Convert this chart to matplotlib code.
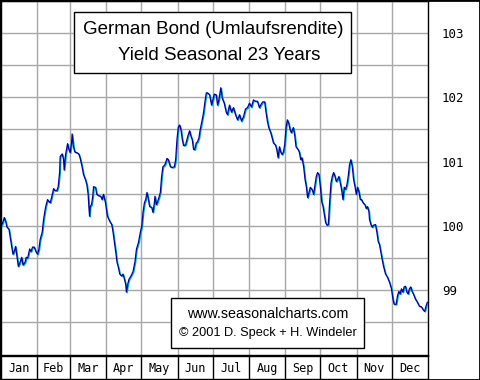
import numpy as np
import matplotlib
matplotlib.use('Agg')
import matplotlib.pyplot as plt
import matplotlib.transforms as mtransforms
from matplotlib.patches import Rectangle

# seasonal pattern, day of year vs index value
days = [0, 1.5, 2.8, 4.0, 5.1, 6.8, 7.9, 9.1, 10.2, 11.3, 12.5, 13.4, 14.8, 16.0, 17.7, 18.8,
        20.5, 21.6, 22.8, 24.5, 25.6, 27.0, 28.4, 30.1, 31.3, 32.4, 33.5, 35.2, 36.4, 38.1,
        39.8, 40.9, 42.1, 43.2, 45.0, 46.1, 47.8, 48.9, 50.1, 50.6, 52.3, 53.5, 54.0, 55.2,
        56.9, 58.0, 59.1, 60.3, 60.8, 62.0, 63.1, 64.8, 66.5, 67.6, 69.3, 70.5, 72.2, 73.4,
        74.5, 75.1, 75.7, 76.2, 77.4, 78.5, 79.1, 80.8, 81.9, 83.6, 85.3, 86.4, 87.6, 89.3,
        91.0, 93.0, 94.7, 95.8, 97.0, 98.1, 99.2, 100.4, 101.5, 103.2, 104.3, 105.5, 106.6,
        107.2, 108.3, 109.4, 111.1, 112.9, 114.6, 115.8, 117.5, 119.2, 120.3, 121.4, 122.6,
        123.7, 124.8, 126.0, 127.1, 128.8, 129.9, 131.1, 131.6, 132.8, 133.9, 135.0, 136.2,
        137.3, 138.4, 140.1, 141.9, 143.0, 144.8, 146.5, 148.2, 149.3, 150.4, 151.6, 152.7,
        153.8, 155.0, 156.1, 157.8, 158.9, 160.1, 161.2, 162.3, 163.5, 164.6, 165.7, 166.9,
        168.0, 169.2, 170.3, 172.0, 173.2, 174.3, 175.5, 176.6, 178.3, 180.0, 181.1, 182.3,
        184.0, 185.1, 186.2, 187.9, 189.1, 190.8, 192.5, 193.6, 195.3, 197.0, 198.7, 200.5,
        202.2, 203.9, 205.6, 207.3, 209.0, 210.7, 212.4, 214.1, 215.8, 217.5, 219.2, 220.9,
        222.0, 223.7, 225.4, 226.6, 227.8, 228.9, 230.6, 231.8, 232.9, 234.6, 235.7, 236.9,
        238.0, 239.1, 240.3, 241.4, 242.5, 243.7, 244.8, 245.9, 247.1, 248.2, 249.9, 251.0,
        252.2, 253.9, 255.0, 256.2, 257.3, 258.7, 259.9, 261.0, 262.1, 263.3, 264.4, 266.1,
        267.2, 268.4, 269.5, 270.6, 271.8, 273.0, 274.1, 275.3, 276.4, 277.5, 278.7, 279.8,
        280.9, 282.1, 283.2, 284.3, 285.5, 286.6, 287.7, 288.9, 290.0, 291.1, 292.3, 293.4,
        294.5, 295.7, 296.8, 297.9, 299.1, 300.3, 301.4, 302.6, 303.7, 304.8, 306.0, 307.1,
        308.2, 309.4, 311.1, 312.2, 313.3, 314.5, 315.0, 316.2, 317.3, 318.4, 320.1, 321.3,
        322.4, 323.5, 324.7, 325.8, 327.0, 328.7, 330.4, 332.1, 333.8, 335.0, 336.1, 337.8,
        338.9, 340.1, 341.2, 342.3, 343.5, 344.6, 345.7, 346.9, 348.0, 349.1, 350.3, 351.4,
        352.5, 354.3, 356.0, 357.6, 359.4, 361.0, 362.2, 363.3, 364.4]
values = [99.99, 100.05, 100.13, 100.07, 99.98, 99.95, 99.82, 99.68, 99.56, 99.60, 99.68, 99.56,
          99.37, 99.42, 99.51, 99.39, 99.43, 99.51, 99.50, 99.64, 99.60, 99.67, 99.67, 99.59,
          99.56, 99.64, 99.79, 99.90, 100.10, 100.29, 100.41, 100.38, 100.36, 100.44, 100.58,
          100.55, 100.55, 100.61, 100.83, 101.08, 101.12, 101.03, 100.87, 101.11, 101.28,
          101.19, 101.14, 101.29, 101.43, 101.23, 101.15, 101.14, 101.12, 101.06, 100.92,
          100.80, 100.72, 100.64, 100.49, 100.30, 100.15, 100.30, 100.33, 100.47, 100.61,
          100.60, 100.49, 100.47, 100.46, 100.41, 100.49, 100.36, 100.15, 100.07, 100.02,
          99.90, 99.74, 99.59, 99.43, 99.35, 99.25, 99.22, 99.25, 99.17, 99.09, 98.97, 99.09,
          99.17, 99.22, 99.29, 99.45, 99.64, 99.74, 99.91, 99.99, 100.21, 100.36, 100.41,
          100.52, 100.41, 100.30, 100.29, 100.21, 100.36, 100.46, 100.33, 100.38, 100.44,
          100.52, 100.77, 100.92, 100.95, 101.05, 101.03, 100.92, 100.91, 100.92, 101.03,
          101.34, 101.54, 101.57, 101.50, 101.34, 101.25, 101.26, 101.34, 101.42, 101.48,
          101.40, 101.34, 101.19, 101.19, 101.29, 101.31, 101.37, 101.50, 101.65, 101.77,
          101.93, 102.07, 102.07, 102.04, 101.88, 101.96, 102.05, 102.04, 101.88, 101.96,
          102.15, 101.99, 101.91, 101.77, 101.73, 101.88, 101.77, 101.84, 101.73, 101.65,
          101.73, 101.63, 101.70, 101.82, 101.84, 101.91, 101.85, 101.96, 101.94, 101.94,
          101.84, 101.88, 101.93, 101.93, 101.76, 101.62, 101.53, 101.45, 101.37, 101.29,
          101.26, 101.19, 101.06, 101.23, 101.15, 101.11, 101.15, 101.26, 101.54, 101.65,
          101.60, 101.50, 101.45, 101.53, 101.42, 101.23, 101.19, 101.15, 101.03, 101.06,
          100.92, 100.72, 100.61, 100.44, 100.52, 100.60, 100.56, 100.49, 100.64, 100.77,
          100.83, 100.80, 100.61, 100.38, 100.30, 100.18, 100.05, 100.01, 100.02, 100.36,
          100.67, 100.77, 100.83, 100.77, 100.69, 100.72, 100.77, 100.67, 100.57, 100.41,
          100.60, 100.57, 100.64, 100.77, 100.95, 101.03, 100.92, 100.72, 100.61, 100.49,
          100.60, 100.53, 100.41, 100.41, 100.36, 100.33, 100.27, 100.30, 100.22, 100.10,
          100.02, 99.98, 100.01, 100.02, 99.90, 99.76, 99.71, 99.59, 99.48, 99.37, 99.25,
          99.20, 99.12, 99.02, 98.86, 98.78, 98.78, 98.91, 98.98, 98.94, 99.02, 98.97, 99.05,
          99.06, 98.97, 98.94, 99.02, 99.05, 98.98, 98.94, 98.86, 98.81, 98.75, 98.74, 98.69,
          98.67, 98.75, 98.81]

months = ['Jan', 'Feb', 'Mar', 'Apr', 'May', 'Jun', 'Jul', 'Aug', 'Sep', 'Oct', 'Nov', 'Dec']
month_days = [31, 28, 31, 30, 31, 30, 31, 31, 30, 31, 30, 31]
yticks = [99, 100, 101, 102, 103]

bounds = np.concatenate([[0], np.cumsum(month_days)])

fig = plt.figure(figsize=(4.8, 3.8), dpi=100)
W, H = 480.0, 380.0

ax = fig.add_axes([1 / W, 1 - 355 / H, 427 / W, 354 / H])
ax.set_xlim(0, 365)
ax.set_ylim(97.99, 103.5)

ax.set_xticks(bounds[1:-1])
ax.set_xticklabels([])
ax.set_yticks(yticks)
ax.set_yticks(np.arange(98.5, 103.6, 1.0), minor=True)
ax.yaxis.tick_right()
ax.tick_params(axis='y', which='both', length=0, pad=10, labelsize=9)
ax.tick_params(axis='x', length=0)
for lab in ax.get_yticklabels():
    lab.set_family('DejaVu Sans Mono')
ax.grid(True, which='both', color='#a8a8a8', lw=1.0)
ax.set_axisbelow(True)
for sp in ax.spines.values():
    sp.set_color('black')
    sp.set_linewidth(1.0)

# cyan shadow then navy line
shift = mtransforms.offset_copy(ax.transData, fig=fig, x=0.8, y=-0.8, units='dots')
ax.plot(days, values, color='#00b0d0', lw=0.9, transform=shift, zorder=3)
ax.plot(days, values, color='#0000a0', lw=0.9, zorder=4)


def px_box(x0, y0, x1, y1):
    # rectangle given in pixel coords of the figure (top-left origin)
    r = Rectangle((x0 / W, 1 - y1 / H), (x1 - x0) / W, (y1 - y0) / H,
                  transform=fig.transFigure, fc='white', ec='black', lw=1.0, zorder=5)
    fig.add_artist(r)


# title box
px_box(74, 12, 351, 73)
fig.text(213.5 / W, 1 - 30 / H, 'German Bond (Umlaufsrendite)', ha='center', va='center',
         fontsize=13.5, family='Liberation Sans', zorder=6)
fig.text(219 / W, 1 - 56 / H, 'Yield Seasonal 23 Years', ha='center', va='center',
         fontsize=13.5, family='Liberation Sans', zorder=6)

# copyright box
px_box(171, 298, 364, 348)
fig.text(268 / W, 1 - 314 / H, 'www.seasonalcharts.com', ha='center', va='center',
         fontsize=10.3, family='Liberation Sans', zorder=6)
fig.text(268 / W, 1 - 333 / H, '© 2001 D. Speck + H. Windeler', ha='center', va='center',
         fontsize=9.2, family='Liberation Sans', zorder=6)

# month strip
mx = fig.add_axes([1 / W, 1 / H, 427 / W, 23 / H])
mx.set_xlim(0, 365)
mx.set_ylim(0, 1)
mx.set_xticks([])
mx.set_yticks([])
for b in bounds[1:-1]:
    mx.axvline(b, color='black', lw=1.0)
for i, m in enumerate(months):
    mx.text((bounds[i] + bounds[i + 1]) / 2, 0.45, m, ha='center', va='center',
            fontsize=8.5, family='DejaVu Sans Mono')
for sp in mx.spines.values():
    sp.set_color('black')
    sp.set_linewidth(1.0)

fig.patches.append(Rectangle((0, 0), 1, 1, transform=fig.transFigure, fill=False,
                             ec='black', lw=2))

fig.savefig('out.png', dpi=100)
